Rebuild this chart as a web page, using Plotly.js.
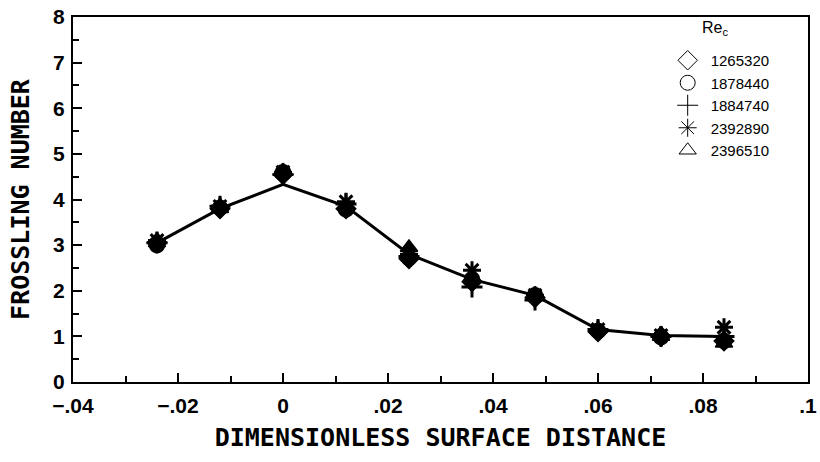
<!DOCTYPE html>
<html>
<head>
<meta charset="utf-8">
<script src="https://cdn.plot.ly/plotly-3.0.1.min.js"></script>
<style>html,body{margin:0;padding:0;background:#fff;}#chart{width:820px;height:462px;}</style>
</head>
<body>
<div id="chart"></div>
<script>
// Dimensionless surface distance
const distance = [-0.024, -0.012, 0.0, 0.012, 0.024, 0.036, 0.048, 0.060, 0.072, 0.084];
// Frossling number per critical Reynolds number
const re1265320 = [3.05, 3.80, 4.55, 3.80, 2.70, 2.20, 1.85, 1.10, 1.00, 0.90];
const re1878440 = [3.00, 3.82, 4.60, 3.78, 2.72, 2.25, 1.90, 1.12, 0.98, 0.90];
const re1884740 = [3.05, 3.85, 4.55, 3.90, 2.75, 2.08, 1.80, 1.15, 1.00, 1.00];
const re2392890 = [3.10, 3.85, 4.60, 3.95, 2.80, 2.45, 1.90, 1.15, 1.02, 1.20];
const re2396510 = [3.05, 3.80, 4.62, 3.85, 2.95, 2.30, 1.92, 1.15, 1.00, 0.85];
// Curve drawn through the data
const curve = [3.05, 3.80, 4.33, 3.85, 2.80, 2.25, 1.90, 1.15, 1.02, 1.00];

const seriesNames = ['1265320', '1878440', '1884740', '2392890', '2396510'];
const seriesValues = [re1265320, re1878440, re1884740, re2392890, re2396510];
const xTickVals = [-0.04, -0.02, 0, 0.02, 0.04, 0.06, 0.08, 0.1];
const xTickText = ['\u2212.04', '\u2212.02', '0', '.02', '.04', '.06', '.08', '.1'];
const yTickVals = [0, 1, 2, 3, 4, 5, 6, 7, 8];

const plotSymbols = ['diamond', 'circle', 'cross-thin-open', 'asterisk-open', 'triangle-up'];
const plotLineW = [1.5, 1.5, 3, 3, 1.5];
const legendSymbols = ['diamond-open', 'circle-open', 'cross-thin-open', 'asterisk-open', 'triangle-up-open'];

const traces = [];
traces.push({
  x: distance, y: curve, type: 'scatter', mode: 'lines',
  line: {color: '#000', width: 3}, showlegend: false, hoverinfo: 'skip'
});
seriesValues.forEach((vals, i) => {
  traces.push({
    x: distance, y: vals, type: 'scatter', mode: 'markers', name: seriesNames[i],
    showlegend: false,
    marker: {symbol: plotSymbols[i], size: 15, color: '#000', line: {color: '#000', width: plotLineW[i]}}
  });
});
seriesNames.forEach((nm, i) => {
  traces.push({
    x: [null], y: [null], type: 'scatter', mode: 'markers', name: nm,
    marker: {symbol: legendSymbols[i], size: 15, color: '#000', line: {color: '#000', width: 1}}
  });
});

const tickFont = {family: 'Liberation Sans, Arial, sans-serif', size: 21, color: '#000', weight: 'bold'};
const titleFont = {family: 'DejaVu Sans Mono, monospace', size: 25, color: '#000', weight: 'bold'};

const layout = {
  width: 820, height: 462,
  margin: {l: 73, r: 12, t: 17, b: 80},
  paper_bgcolor: '#fff', plot_bgcolor: '#fff',
  showlegend: true,
  xaxis: {
    range: [-0.04, 0.1], tickmode: 'array', tickvals: xTickVals, ticktext: xTickText,
    ticks: 'inside', ticklen: 9, tickwidth: 2, tickcolor: '#000', ticklabelstandoff: 4,
    minor: {dtick: 0.01, ticks: 'inside', ticklen: 6, tickwidth: 2, tickcolor: '#000'},
    showgrid: false, zeroline: false, showline: true, linecolor: '#000', linewidth: 2, mirror: true,
    tickfont: tickFont,
    title: {text: 'DIMENSIONLESS SURFACE DISTANCE', font: titleFont, standoff: 12}
  },
  yaxis: {
    range: [0, 8], tickmode: 'array', tickvals: yTickVals,
    ticks: 'inside', ticklen: 9, tickwidth: 2, tickcolor: '#000', ticklabelstandoff: 2,
    minor: {dtick: 0.5, ticks: 'inside', ticklen: 6, tickwidth: 2, tickcolor: '#000'},
    showgrid: false, zeroline: false, showline: true, linecolor: '#000', linewidth: 2, mirror: true,
    tickfont: tickFont,
    title: {text: 'FROSSLING NUMBER', font: titleFont, standoff: 16}
  },
  legend: {
    x: 0.805, y: 0.926, xanchor: 'left', yanchor: 'top',
    bgcolor: 'rgba(0,0,0,0)', borderwidth: 0, itemwidth: 36,
    font: {family: 'Liberation Sans, Arial, sans-serif', size: 15, color: '#000'},
    tracegroupgap: 0
  },
  annotations: [{
    text: 'Re<sub>c</sub>', xref: 'paper', yref: 'paper', x: 0.853, y: 1.0,
    xanchor: 'left', yanchor: 'top', showarrow: false,
    font: {family: 'Liberation Sans, Arial, sans-serif', size: 16, color: '#000'}
  }]
};

Plotly.newPlot('chart', traces, layout, {staticPlot: true, displayModeBar: false});
</script>
</body>
</html>
